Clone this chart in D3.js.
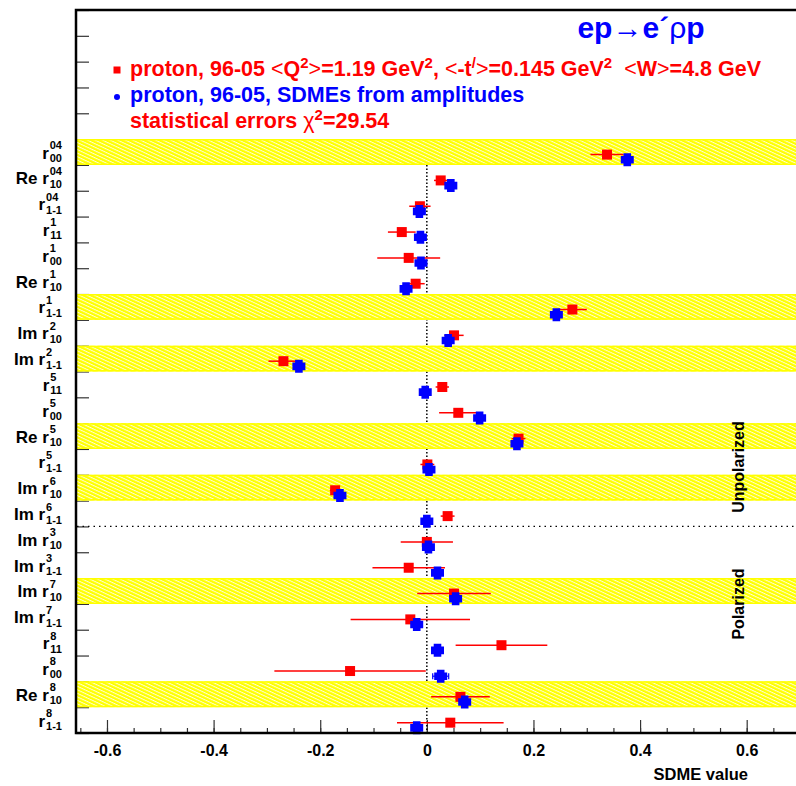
<!DOCTYPE html>
<html>
<head>
<meta charset="utf-8">
<script src="https://cdn.jsdelivr.net/npm/d3@7"></script>
<style>
body { margin: 0; background: #fff; }
text { font-family: "Liberation Sans", Arial, sans-serif; font-weight: bold; white-space: pre; }
</style>
</head>
<body>
<svg id="chart" width="796" height="786"></svg>
<script>
// SDME labels (top to bottom)
const labelPrefix = ["", "Re ", "", "", "", "Re ", "", "Im ", "Im ", "", "", "Re ", "", "Im ", "Im ", "Im ", "Im ", "Im ", "Im ", "", "", "Re ", ""];
const labelSup = ["04", "04", "04", "1", "1", "1", "1", "2", "2", "5", "5", "5", "5", "6", "6", "3", "3", "7", "7", "8", "8", "8", "8"];
const labelSub = ["00", "10", "1-1", "11", "00", "10", "1-1", "10", "1-1", "11", "00", "10", "1-1", "10", "1-1", "10", "1-1", "10", "1-1", "11", "00", "10", "1-1"];

// proton 96-05 measured SDMEs (red squares)
const redValues = [0.338, 0.026, -0.013, -0.047, -0.034, -0.021, 0.273, 0.051, -0.269, 0.029, 0.059, 0.172, 0.001, -0.172, 0.039, 0.000, -0.034, 0.051, -0.031, 0.140, -0.144, 0.063, 0.044];
const redErrors = [0.031, 0.0125, 0.02, 0.026, 0.059, 0.017, 0.027, 0.018, 0.028, 0.0125, 0.036, 0.013, 0.013, 0.01, 0.013, 0.049, 0.068, 0.069, 0.112, 0.086, 0.142, 0.055, 0.1];

// SDMEs from amplitudes (blue)
const blueValues = [0.376, 0.045, -0.014, -0.012, -0.011, -0.039, 0.243, 0.040, -0.240, -0.003, 0.099, 0.169, 0.004, -0.163, 0.000, 0.003, 0.020, 0.054, -0.019, 0.020, 0.026, 0.071, -0.019];
const blueErrors = [0.008, 0.005, 0.005, 0.005, 0.005, 0.005, 0.008, 0.005, 0.008, 0.005, 0.005, 0.005, 0.005, 0.005, 0.005, 0.005, 0.005, 0.005, 0.005, 0.005, 0.015, 0.005, 0.005];

// highlighted (yellow) rows
const bandRows = [0, 6, 8, 11, 13, 17, 21];

const xTickValues = [-0.6, -0.4, -0.2, 0, 0.2, 0.4, 0.6];

const svg = d3.select("#chart");
const nRows = labelSub.length;
const rowCenter = i => nRows - i - 0.5;

const x = d3.scaleLinear().domain([-0.66, 0.7]).range([75, 800]);
const y = d3.scaleLinear().domain([0, 28]).range([733, 10]);

// hatch pattern for the bands
const defs = svg.append("defs");
const pat = defs.append("pattern")
    .attr("id", "hatch")
    .attr("patternUnits", "userSpaceOnUse")
    .attr("width", 4)
    .attr("height", 3.2)
    .attr("patternTransform", "rotate(25)");
pat.append("rect").attr("width", 4).attr("height", 3.2).attr("fill", "#ffff00");
pat.append("line")
    .attr("x1", 0).attr("x2", 4)
    .attr("y1", 0.5).attr("y2", 0.5)
    .attr("stroke", "#ffffd0")
    .attr("stroke-width", 1);

// y ticks (inside the frame)
svg.append("g")
    .attr("transform", "translate(76,0)")
    .call(d3.axisLeft(y).tickValues(d3.range(0, 29)).tickSize(-13).tickFormat(""))
    .call(g => g.select(".domain").remove())
    .selectAll("line").attr("stroke", "#333").attr("stroke-width", 1.2);

// x minor ticks
svg.append("g")
    .attr("transform", "translate(0,733)")
    .call(d3.axisBottom(x).tickValues(d3.range(-13, 14).map(k => k * 0.05)).tickSize(-5).tickFormat(""))
    .call(g => g.select(".domain").remove())
    .selectAll("line").attr("stroke", "#333").attr("stroke-width", 1.2);

// x major ticks + labels
const xAxisG = svg.append("g")
    .attr("transform", "translate(0,733)")
    .call(d3.axisBottom(x).tickValues(xTickValues).tickSize(-13).tickPadding(12)
        .tickFormat(d => d === 0 ? "0" : d.toFixed(1)));
xAxisG.select(".domain").remove();
xAxisG.attr("font-size", 16);
xAxisG.selectAll("line").attr("stroke", "#333").attr("stroke-width", 1.2);
xAxisG.selectAll("text").attr("fill", "#000");

// x axis title
svg.append("text")
    .attr("x", 748).attr("y", 780)
    .attr("text-anchor", "end")
    .attr("font-size", 16.5)
    .text("SDME value");

// dotted line at zero
svg.append("line")
    .attr("x1", x(0)).attr("x2", x(0))
    .attr("y1", y(nRows - 1)).attr("y2", y(0))
    .attr("stroke", "#000")
    .attr("stroke-width", 1.5)
    .attr("stroke-dasharray", "1.5,2");

// separator between unpolarized and polarized
svg.append("line")
    .attr("x1", 77).attr("x2", 800)
    .attr("y1", y(8)).attr("y2", y(8))
    .attr("stroke", "#000")
    .attr("stroke-width", 1.2)
    .attr("stroke-dasharray", "1.5,4");

// yellow bands
const bands = svg.append("g");
bandRows.forEach(i => {
    const top = y(rowCenter(i) + 0.5), bot = y(rowCenter(i) - 0.5);
    bands.append("rect")
        .attr("x", 77).attr("y", top)
        .attr("width", 723).attr("height", bot - top)
        .attr("fill", "url(#hatch)");
    [top + 0.75, bot - 0.75].forEach(yy => {
        bands.append("line")
            .attr("x1", 77).attr("x2", 800)
            .attr("y1", yy).attr("y2", yy)
            .attr("stroke", "#ffff00")
            .attr("stroke-width", 1.5);
    });
});

// side labels
svg.append("text")
    .attr("transform", "translate(744,467) rotate(-90)")
    .attr("text-anchor", "middle")
    .attr("font-size", 16)
    .text("Unpolarized");
svg.append("text")
    .attr("transform", "translate(744,604) rotate(-90)")
    .attr("text-anchor", "middle")
    .attr("font-size", 16)
    .text("Polarized");

// red points with error bars
const redG = svg.append("g");
redValues.forEach((v, i) => {
    const yy = y(rowCenter(i) - 0.1);
    redG.append("line")
        .attr("x1", x(v - redErrors[i])).attr("x2", x(v + redErrors[i]))
        .attr("y1", yy).attr("y2", yy)
        .attr("stroke", "#ff0000")
        .attr("stroke-width", 1.5);
    redG.append("rect")
        .attr("x", x(v) - 5).attr("y", yy - 5)
        .attr("width", 10).attr("height", 10)
        .attr("fill", "#ff0000");
});

// blue points with error bars
const plusPath = (h, a) => `M${-a},${-h}L${a},${-h}L${a},${-a}L${h},${-a}L${h},${a}L${a},${a}L${a},${h}L${-a},${h}L${-a},${a}L${-h},${a}L${-h},${-a}L${-a},${-a}Z`;
const blueG = svg.append("g");
blueValues.forEach((v, i) => {
    const yy = y(rowCenter(i) - 0.3);
    const x1 = x(v - blueErrors[i]), x2 = x(v + blueErrors[i]);
    blueG.append("line")
        .attr("x1", x1).attr("x2", x2)
        .attr("y1", yy).attr("y2", yy)
        .attr("stroke", "#0000ff").attr("stroke-width", 1.2);
    [x1, x2].forEach(xx => {
        blueG.append("line")
            .attr("x1", xx).attr("x2", xx)
            .attr("y1", yy - 3).attr("y2", yy + 3)
            .attr("stroke", "#0000ff").attr("stroke-width", 1.2);
    });
    blueG.append("path")
        .attr("transform", `translate(${x(v)},${yy})`)
        .attr("d", plusPath(6.5, 3.8))
        .attr("fill", "#0000ff");
});

// row labels: prefix + r with stacked super/subscripts
const labelG = svg.append("g");
labelSub.forEach((sub, i) => {
    const yc = y(rowCenter(i));
    const g = labelG.append("g");
    const supT = g.append("text").attr("font-size", 11).attr("y", yc - 3).text(labelSup[i]);
    const subT = g.append("text").attr("font-size", 11).attr("y", yc + 10).text(sub);
    const w = Math.max(supT.node().getComputedTextLength(), subT.node().getComputedTextLength());
    const x0 = 62 - w;
    supT.attr("x", x0);
    subT.attr("x", x0);
    g.append("text")
        .attr("font-size", 17)
        .attr("x", x0 - 1).attr("y", yc + 6.5)
        .attr("text-anchor", "end")
        .text(labelPrefix[i] + "r");
});

// helper for text with superscripts
function richText(sel, parts, supSize) {
    let shifted = 0;
    parts.forEach(p => {
        const t = sel.append("tspan").text(p.t);
        if (p.sup) {
            t.attr("font-size", supSize).attr("dy", -8 - shifted);
            shifted = -8;
        } else if (shifted !== 0) {
            t.attr("dy", -shifted);
            shifted = 0;
        }
        if (p.thin) t.attr("font-weight", "normal");
    });
}

// title
const title = svg.append("text")
    .attr("x", 641).attr("y", 38)
    .attr("text-anchor", "middle")
    .attr("font-size", 30)
    .attr("fill", "#0000ff");
richText(title, [{t: "ep"}, {t: "\u2192", thin: true}, {t: "e\u00b4"}, {t: "\u03c1", thin: true}, {t: "p"}], 16);

// legend
svg.append("rect").attr("x", 113.5).attr("y", 66.5).attr("width", 7).attr("height", 7).attr("fill", "#ff0000");
svg.append("circle").attr("cx", 117).attr("cy", 97).attr("r", 3).attr("fill", "#0000ff");

const leg1 = svg.append("text").attr("x", 130).attr("y", 76).attr("font-size", 21.5).attr("fill", "#ff0000");
richText(leg1, [
    {t: "proton, 96-05 "}, {t: "<", thin: true}, {t: "Q"}, {t: "2", sup: true}, {t: ">", thin: true},
    {t: "=1.19 GeV"}, {t: "2", sup: true}, {t: ", "}, {t: "<", thin: true}, {t: "-t"}, {t: "/", sup: true},
    {t: ">", thin: true}, {t: "=0.145 GeV"}, {t: "2", sup: true}, {t: "  "}, {t: "<", thin: true},
    {t: "W"}, {t: ">", thin: true}, {t: "=4.8 GeV"}
], 15);

svg.append("text").attr("x", 130).attr("y", 102).attr("font-size", 21.5).attr("fill", "#0000ff")
    .text("proton, 96-05, SDMEs from amplitudes");

const leg3 = svg.append("text").attr("x", 130).attr("y", 128).attr("font-size", 21.5).attr("fill", "#ff0000");
richText(leg3, [{t: "statistical errors "}, {t: "\u03c7", thin: true}, {t: "2", sup: true}, {t: "=29.54"}], 15);

// frame
svg.append("rect")
    .attr("x", 76).attr("y", 10)
    .attr("width", 740).attr("height", 723)
    .attr("fill", "none")
    .attr("stroke", "#000")
    .attr("stroke-width", 2.5);
</script>
</body>
</html>
